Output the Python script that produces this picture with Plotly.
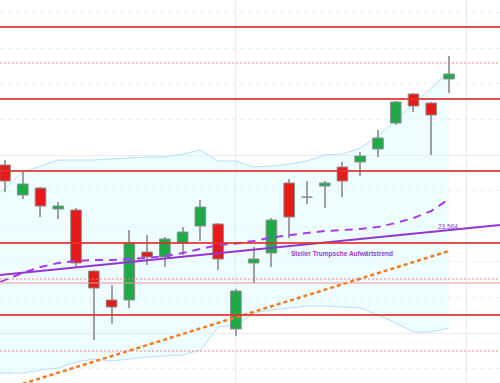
import plotly.graph_objects as go

# ---- candle data (index = trading day) ----
idx = list(range(26))
opens  = [23.89, 23.74, 23.775, 23.67, 23.665, 23.36, 23.215, 23.215, 23.455, 23.43, 23.5, 23.585, 23.595,
          23.07, 23.4, 23.45, 23.8, 23.73, 23.785, 23.88, 23.905, 23.97, 24.1, 24.245, 24.2, 24.32]
highs  = [23.915, 23.855, 23.78, 23.705, 23.675, 23.365, 23.29, 23.565, 23.54, 23.53, 23.58, 23.715, 23.6,
          23.27, 23.48, 23.625, 23.82, 23.81, 23.81, 23.905, 23.955, 24.065, 24.21, 24.25, 24.205, 24.435]
lows   = [23.755, 23.72, 23.63, 23.62, 23.375, 23.015, 23.095, 23.175, 23.39, 23.38, 23.44, 23.51, 23.365,
          23.035, 23.3, 23.38, 23.525, 23.695, 23.675, 23.73, 23.835, 23.93, 24.09, 24.155, 23.94, 24.25]
closes = [23.81, 23.795, 23.685, 23.685, 23.4, 23.275, 23.18, 23.5, 23.43, 23.52, 23.555, 23.68, 23.42,
          23.26, 23.42, 23.615, 23.63, 23.729, 23.8, 23.81, 23.935, 24.025, 24.205, 24.185, 24.14, 24.345]

# ---- Bollinger bands & moving average ----
band_x = list(range(-1, 26))
band_upper = [23.7, 23.775, 23.855, 23.885, 23.915, 23.915, 23.915, 23.92, 23.925, 23.93, 23.93, 23.945,
              23.965, 23.91, 23.91, 23.88, 23.885, 23.895, 23.91, 23.94, 23.945, 23.975, 24.035, 24.115,
              24.195, 24.275, 24.355]
band_lower = [22.85, 22.85, 22.85, 22.865, 22.875, 22.905, 22.92, 22.91, 22.92, 22.93, 22.935, 22.94,
              22.965, 23.08, 23.09, 23.15, 23.165, 23.175, 23.185, 23.185, 23.18, 23.175, 23.14, 23.1,
              23.055, 23.055, 23.075]
ma_values = [23.28, 23.315, 23.35, 23.38, 23.4, 23.41, 23.415, 23.415, 23.42, 23.425, 23.435, 23.45, 23.47,
             23.49, 23.4975, 23.51, 23.5275, 23.54, 23.55, 23.56, 23.565, 23.57, 23.58, 23.6, 23.625,
             23.66, 23.72]

# ---- trend lines ----
trend_x = [-0.28, 27.87]
trend_y = [23.34, 23.59]
steep_x = [1.0, 25.0]
steep_y = [22.796, 23.46]

# ---- horizontal levels ----
red_levels = [24.58, 24.22, 23.86, 23.5, 23.14]
dotted_levels = [24.4, 23.32, 22.96]
pink_levels = [23.3]

trend_label = "23.564"
trend_label_pos = (24.94, 23.585)
trend_name = "Steiler Trumpsche Aufwärtstrend"
trend_name_pos = (18.95, 23.445)

XR = [-0.2815, 27.87]
YR = [22.8, 24.715]

fig = go.Figure()

# bands on base axes (below candles)
fig.add_trace(go.Scatter(x=band_x, y=band_lower, mode="lines",
                         line=dict(color="#b3e0fa", width=1), hoverinfo="skip", showlegend=False))
fig.add_trace(go.Scatter(x=band_x, y=band_upper, mode="lines", fill="tonexty",
                         fillcolor="rgba(200,250,255,0.3)",
                         line=dict(color="#b3e0fa", width=1), hoverinfo="skip", showlegend=False))

# wicks
fig.add_trace(go.Bar(x=idx, y=[h - l for h, l in zip(highs, lows)], base=lows, width=0.06,
                     marker=dict(color="#a0a0a0", line=dict(width=0)),
                     xaxis="x2", yaxis="y2", showlegend=False))
# bodies
body_base = [min(o, c) for o, c in zip(opens, closes)]
body_h = [max(abs(c - o), 0.0008) for o, c in zip(opens, closes)]
body_col = ["#1faa48" if c > o else "#e31b1b" for o, c in zip(opens, closes)]
fig.add_trace(go.Bar(x=idx, y=body_h, base=body_base, width=0.6,
                     marker=dict(color=body_col, line=dict(color="#8f8f8f", width=1)),
                     xaxis="x2", yaxis="y2", showlegend=False))

# moving average (dashed purple)
fig.add_trace(go.Scatter(x=band_x, y=ma_values, mode="lines",
                         line=dict(color="#a53cf0", width=2, dash="8px,6px"),
                         xaxis="x2", yaxis="y2", showlegend=False))
# trend line (solid purple)
fig.add_trace(go.Scatter(x=trend_x, y=trend_y, mode="lines",
                         line=dict(color="#9436d2", width=2),
                         xaxis="x2", yaxis="y2", showlegend=False))
# steep uptrend (dotted orange)
fig.add_trace(go.Scatter(x=steep_x, y=steep_y, mode="lines",
                         line=dict(color="#f67a1e", width=2.5, dash="4px,3px"),
                         xaxis="x2", yaxis="y2", showlegend=False))

for v in red_levels:
    fig.add_shape(type="line", xref="paper", x0=0, x1=1, yref="y", y0=v, y1=v,
                  line=dict(color="rgba(226,48,48,0.85)", width=2), layer="above")
for v in dotted_levels:
    fig.add_shape(type="line", xref="paper", x0=0, x1=1, yref="y", y0=v, y1=v,
                  line=dict(color="rgba(240,120,120,0.6)", width=1.5, dash="2px,2px"), layer="above")
for v in pink_levels:
    fig.add_shape(type="line", xref="paper", x0=0, x1=1, yref="y", y0=v, y1=v,
                  line=dict(color="rgba(240,150,150,0.5)", width=2), layer="above")

fig.add_annotation(x=trend_label_pos[0], y=trend_label_pos[1], text=trend_label, showarrow=False,
                   xref="x", yref="y",
                   font=dict(family="Liberation Sans", size=6.5, color="#9a3ccc"))
fig.add_annotation(x=trend_name_pos[0], y=trend_name_pos[1], text="<b>" + trend_name + "</b>",
                   showarrow=False, xref="x", yref="y",
                   font=dict(family="Liberation Sans", size=6.5, color="#9a3ccc"))

fig.update_layout(
    width=500, height=383, margin=dict(l=0, r=0, t=0, b=0),
    paper_bgcolor="white", plot_bgcolor="white", barmode="overlay", showlegend=False,
    xaxis=dict(range=XR, tickvals=[13, 26], showgrid=True, gridcolor="#ebebeb", gridwidth=1,
               showticklabels=False, zeroline=False, showline=False, ticks=""),
    yaxis=dict(range=YR, tick0=23.05, dtick=0.89, showgrid=True, gridcolor="#ececec",
               showticklabels=False, zeroline=False, showline=False, ticks="",
               minor=dict(tick0=23.05, dtick=0.178, showgrid=True, gridcolor="#efefef",
                          griddash="4px,4px", ticks="")),
    xaxis2=dict(range=XR, overlaying="x", visible=False),
    yaxis2=dict(range=YR, overlaying="y", visible=False),
)

fig.write_html("out.html", config={"displayModeBar": False},
               post_script="document.body.style.margin='0';document.body.style.overflow='hidden';")
